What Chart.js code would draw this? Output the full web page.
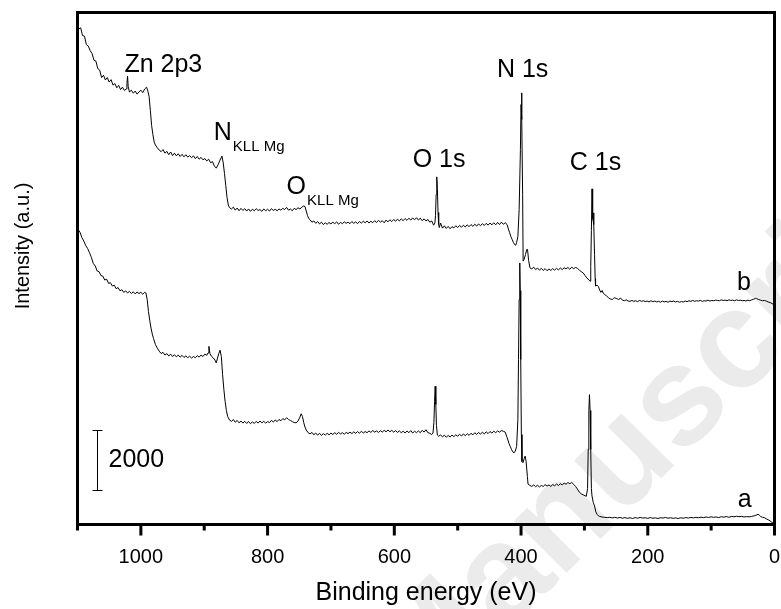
<!DOCTYPE html>
<html><head><meta charset="utf-8">
<script src="https://cdn.jsdelivr.net/npm/chart.js@4.4.0/dist/chart.umd.min.js"></script>
<style>html,body{margin:0;padding:0;background:#fff}#wrap{width:781px;height:609px;position:relative}</style>
</head><body><div id="wrap"><canvas id="c" width="781" height="609"></canvas></div>
<script>
const xTitle = 'Binding energy (eV)';
const yTitle = 'Intensity (a.u.)';
const majorTicks = [1000, 800, 600, 400, 200, 0];
const minorTicks = [1100, 900, 700, 500, 300, 100];
const scaleBarValue = 2000;

// curve b (upper spectrum): [binding energy eV, counts]
const curveB = [
[1100,16700],[1098,16520],[1095,16560],[1092,16300],[1089,16280],[1086,16000],[1083,15950],[1080,15800],[1077,15700],[1074,15480],
[1071,15450],[1068,15200],[1065,15150],[1062,14900],[1059,14980],[1056,14820],[1053,14900],[1050,14750],[1047,14830],[1044,14650],
[1041,14700],[1038,14560],[1035,14640],[1032,14500],[1029,14580],[1026,14470],[1023,14520],[1022,14700],[1021,14950],[1020,14600],
[1018,14420],[1015,14480],[1012,14380],[1009,14450],[1006,14350],[1003,14420],[1000,14480],[997,14400],[994,14520],[991,14580],
[989,14450],[987,14270],[985,13800],[983,13300],[981,13000],[979,12750],[977,12650],[974,12560],[971,12480],[968,12430],
[965,12500],[962,12380],[959,12440],[956,12330],[953,12420],[950,12300],[947,12380],[944,12290],[941,12360],[938,12270],
[935,12340],[932,12260],[929,12330],[926,12250],[923,12300],[920,12230],[917,12290],[914,12200],[911,12270],[908,12180],
[905,12240],[902,12160],[899,12200],[896,12120],[893,12180],[890,12060],[887,12100],[884,11950],[881,11880],[878,12000],
[875,12150],[872,12280],[870,12050],[868,11700],[866,11300],[864,10900],[862,10650],[860,10560],[857,10520],[854,10580],
[851,10480],[848,10550],[845,10460],[842,10540],[839,10470],[836,10530],[833,10450],[830,10520],[827,10440],[824,10510],
[821,10460],[818,10530],[815,10470],[812,10500],[809,10440],[806,10520],[803,10460],[800,10510],[797,10450],[794,10530],
[791,10470],[788,10510],[785,10460],[782,10520],[779,10480],[776,10540],[773,10500],[770,10570],[767,10480],[764,10520],
[761,10460],[758,10540],[755,10500],[752,10560],[749,10520],[746,10580],[743,10620],[741,10600],[739,10450],[737,10300],
[735,10200],[733,10160],[730,10080],[727,10120],[724,10040],[721,10100],[718,10020],[715,10080],[712,10000],[709,10060],
[706,10010],[703,10070],[700,10020],[697,10080],[694,10030],[691,10090],[688,10010],[685,10070],[682,10030],[679,10090],
[676,10040],[673,10080],[670,10030],[667,10100],[664,10040],[661,10090],[658,10030],[655,10100],[652,10050],[649,10110],
[646,10060],[643,10120],[640,10050],[637,10110],[634,10060],[631,10130],[628,10070],[625,10140],[622,10080],[619,10130],
[616,10060],[613,10150],[610,10090],[607,10160],[604,10100],[601,10170],[598,10110],[595,10180],[592,10120],[589,10190],
[586,10130],[583,10200],[580,10140],[577,10210],[574,10150],[571,10220],[568,10160],[565,10230],[562,10150],[559,10210],
[556,10130],[553,10190],[550,10120],[547,10170],[544,10080],[541,10120],[538,9980],[536,10050],[535,10300],[534,11000],
[533,11590],[532,11200],[531,10400],[530,10000],[529,9900],[527,10050],[524,9880],[521,9960],[518,9870],[515,9940],
[512,9860],[509,9930],[506,9890],[503,9960],[500,9900],[497,9970],[494,9910],[491,9980],[488,9920],[485,9990],
[482,9930],[479,10000],[476,9940],[473,10010],[470,9950],[467,10020],[464,9960],[461,10030],[458,9970],[455,10040],
[452,9980],[449,10050],[446,9990],[443,10060],[440,9990],[437,10070],[434,10000],[431,10080],[428,10010],[425,10060],
[422,10000],[420,9850],[418,9730],[416,9600],[414,9500],[412,9400],[410,9330],[408.5,9310],[407,9400],[405,9600],
[403,10500],[401,12500],[400,14000],[399.3,14390],[398.5,13500],[397.5,11000],[396.7,8780],[395,8850],[393,9000],[391,9170],
[389.8,9170],[388,8800],[386,8560],[383,8520],[380,8580],[377,8500],[374,8550],[371,8480],[368,8540],[365,8470],
[362,8530],[359,8460],[356,8520],[353,8470],[350,8530],[347,8480],[344,8540],[341,8490],[338,8550],[335,8500],
[332,8560],[329,8520],[326,8570],[323,8510],[320,8580],[317,8530],[314,8570],[311,8540],[308,8480],[305,8430],
[302,8390],[299,8300],[296,8220],[293,8150],[291,8110],[290,8600],[289,9800],[288,11190],[287,10200],[286,10100],
[285.5,10390],[285,10000],[284,9000],[283,8200],[282.4,7950],[280,7980],[278,7940],[276,7820],[274,7740],[272,7800],
[270,7700],[268,7670],[265,7620],[262,7560],[259,7520],[256,7500],[254,7540],[252,7560],[249,7530],[246,7500],
[243,7550],[240,7480],[237,7460],[234,7490],[231,7450],[228,7440],[225,7470],[222,7440],[219,7460],[216,7430],
[213,7470],[210,7440],[207,7460],[204,7430],[201,7450],[198,7420],[195,7460],[192,7430],[189,7450],[186,7420],
[183,7440],[180,7410],[177,7450],[174,7420],[171,7440],[168,7410],[165,7450],[162,7430],[159,7450],[156,7420],
[153,7440],[150,7410],[147,7430],[144,7420],[141,7450],[138,7430],[135,7460],[132,7440],[129,7470],[126,7440],
[123,7460],[120,7450],[117,7470],[114,7440],[111,7460],[108,7450],[105,7480],[102,7450],[99,7470],[96,7460],
[93,7480],[90,7470],[87,7460],[84,7490],[81,7470],[78,7480],[75,7460],[72,7490],[69,7470],[66,7480],
[63,7460],[60,7490],[57,7470],[54,7480],[51,7460],[48,7470],[45,7450],[42,7480],[39,7460],[36,7490],
[33,7510],[30,7540],[28,7530],[25,7500],[22,7480],[19,7460],[16,7470],[13,7450],[10,7420],[7,7400],
[4,7370],[2,7340],[0,7320]
];

// curve a (lower spectrum): [binding energy eV, counts]
const curveA = [
[1100,9870],[1098,9800],[1096,9740],[1093,9560],[1090,9450],[1087,9300],[1084,9200],[1081,9060],[1078,8900],[1075,8700],
[1072,8620],[1069,8450],[1066,8430],[1063,8300],[1060,8280],[1057,8150],[1054,8180],[1051,8040],[1048,8060],[1045,7950],
[1042,7980],[1039,7860],[1036,7900],[1033,7790],[1030,7830],[1027,7740],[1024,7790],[1021,7720],[1018,7770],[1015,7700],
[1012,7760],[1009,7690],[1006,7750],[1003,7700],[1000,7740],[997,7680],[994,7740],[992,7720],[990,7500],[988,7100],
[986,6800],[984,6550],[982,6350],[980,6200],[977,6000],[974,5880],[971,5780],[968,5700],[965,5740],[962,5650],
[959,5700],[956,5620],[953,5680],[950,5600],[947,5660],[944,5590],[941,5650],[938,5580],[935,5640],[932,5570],
[929,5620],[926,5560],[923,5610],[920,5550],[917,5600],[914,5560],[911,5630],[908,5580],[905,5650],[902,5600],
[899,5680],[896,5640],[894,5720],[892.6,5940],[891,5700],[889,5620],[886,5560],[883,5480],[881,5390],[879,5550],
[877,5700],[875,5810],[873,5600],[871,5000],[869,4500],[867,4100],[865,3800],[863,3600],[860,3480],[857,3440],
[854,3500],[851,3410],[848,3470],[845,3390],[842,3450],[839,3380],[836,3440],[833,3370],[830,3430],[827,3360],
[824,3420],[821,3370],[818,3440],[815,3380],[812,3450],[809,3390],[806,3440],[803,3380],[800,3430],[797,3400],
[794,3470],[791,3420],[788,3480],[785,3430],[782,3500],[779,3460],[776,3530],[773,3490],[770,3560],[767,3500],
[764,3470],[761,3430],[758,3400],[755,3390],[752,3450],[749,3580],[747,3690],[745,3600],[743,3400],[741,3250],
[739,3150],[736,3060],[733,3020],[730,3070],[727,2990],[724,3050],[721,2980],[718,3040],[715,2970],[712,3030],
[709,2980],[706,3040],[703,2990],[700,3050],[697,3000],[694,3060],[691,3010],[688,3070],[685,3020],[682,3060],
[679,3010],[676,3070],[673,3030],[670,3080],[667,3030],[664,3090],[661,3040],[658,3100],[655,3040],[652,3110],
[649,3050],[646,3100],[643,3060],[640,3120],[637,3070],[634,3130],[631,3080],[628,3120],[625,3070],[622,3130],
[619,3080],[616,3140],[613,3090],[610,3150],[607,3090],[604,3140],[601,3080],[598,3130],[595,3070],[592,3120],
[589,3060],[586,3110],[583,3050],[580,3120],[577,3060],[574,3130],[571,3050],[568,3110],[565,3060],[562,3120],
[559,3060],[556,3140],[553,3080],[550,3160],[547,3060],[544,3040],[541,3000],[539,3050],[537.5,3400],[536.5,4100],
[535.5,4610],[534.5,4000],[533.5,3300],[532,2980],[530,2940],[527,2990],[524,2920],[521,2980],[518,2910],[515,2970],
[512,2920],[509,2980],[506,2930],[503,2990],[500,2940],[497,3010],[494,2950],[491,3020],[488,2960],[485,3030],
[482,2970],[479,3040],[476,2990],[473,3060],[470,3000],[467,3070],[464,3010],[461,3080],[458,3020],[455,3090],
[452,3030],[449,3100],[446,3050],[443,3110],[440,3060],[437,3120],[434,3080],[431,3130],[428,3110],[425,3080],
[422,2900],[419,2700],[417,2600],[415,2500],[413,2420],[411,2390],[409,2450],[407,2600],[405,3500],[404,5500],
[403,7500],[402,8720],[401.3,7800],[400.5,5500],[399.5,3000],[398.5,2100],[397,2060],[395,2200],[393.5,2280],[392,2100],
[390,1600],[389,1350],[386,1300],[383,1270],[380,1320],[377,1260],[374,1310],[371,1250],[368,1300],[365,1270],
[362,1330],[359,1280],[356,1320],[353,1270],[350,1330],[347,1290],[344,1350],[341,1300],[338,1360],[335,1320],
[332,1380],[329,1340],[326,1400],[323,1360],[320,1400],[317,1340],[314,1270],[311,1180],[308,1080],[305,1020],
[302,990],[299,960],[297,940],[295,1200],[294,2500],[293,3800],[292,4330],[291,3800],[290,2500],[289,1200],
[288,950],[286,730],[284,620],[282,420],[280,340],[278,290],[276,270],[272,250],[268,240],[264,230],
[260,240],[256,220],[252,240],[248,215],[244,235],[240,210],[236,230],[232,205],[228,225],[224,200],
[220,230],[216,210],[212,235],[208,215],[204,225],[200,205],[196,230],[192,210],[188,220],[184,200],
[180,225],[176,215],[172,235],[168,210],[164,225],[160,205],[156,220],[152,200],[148,225],[144,210],
[140,230],[136,215],[132,235],[128,220],[124,240],[120,225],[116,245],[112,230],[108,250],[104,235],
[100,255],[96,240],[92,250],[88,230],[84,260],[80,245],[76,265],[72,240],[68,270],[64,255],
[60,275],[56,260],[52,270],[48,250],[44,265],[40,255],[36,270],[32,290],[28,320],[26,340],
[24,310],[22,270],[19,240],[16,230],[13,190],[10,160],[7,120],[4,70],[2,40],[0,30]
];

// text annotations, placed in data coordinates (energy, counts)
const peakLabels = [
  {text: 'Zn 2p3', e: 1026, c: 15100},
  {text: 'N 1s', e: 438, c: 14930},
  {text: 'O 1s', e: 571, c: 11930},
  {text: 'C 1s', e: 323, c: 11830},
  {text: 'b', e: 59, c: 7830},
  {text: 'a', e: 58, c: 570}
];
const augerLabels = [
  {main: 'N', sub: 'KLL Mg', e: 885, c: 12830},
  {main: 'O', sub: 'KLL Mg', e: 770, c: 11030}
];
const scaleBar = {e: 1069, from: 1150, labelE: 1051, labelC: 1930};

const FONT = '"Liberation Sans", Arial, Helvetica, sans-serif';

const decor = {
  id: 'decor',
  beforeDraw(chart) {
    const ctx = chart.ctx;
    ctx.save();
    ctx.fillStyle = '#fff';
    ctx.fillRect(0, 0, chart.width, chart.height);
    // faint watermark
    ctx.translate(395, 690);
    ctx.rotate(-Math.PI / 4);
    ctx.fillStyle = '#ebebeb';
    ctx.font = 'bold 140px ' + FONT;
    ctx.textBaseline = 'middle';
    ctx.textAlign = 'left';
    ctx.fillText('Manuscript', 0, 0);
    ctx.restore();
  },
  afterDraw(chart) {
    const ctx = chart.ctx;
    const xs = chart.scales.x, ys = chart.scales.y;
    const a = chart.chartArea;
    ctx.save();
    // frame
    ctx.strokeStyle = '#000';
    ctx.lineWidth = 3;
    ctx.strokeRect(a.left, a.top, a.right - a.left, a.bottom - a.top);
    // ticks
    ctx.beginPath();
    majorTicks.forEach(v => { const x = xs.getPixelForValue(v); ctx.moveTo(x, a.bottom); ctx.lineTo(x, a.bottom + 11); });
    minorTicks.forEach(v => { const x = xs.getPixelForValue(v); ctx.moveTo(x, a.bottom); ctx.lineTo(x, a.bottom + 6); });
    ctx.stroke();
    // y title
    ctx.fillStyle = '#000';
    ctx.save();
    ctx.translate(23, 246);
    ctx.rotate(-Math.PI / 2);
    ctx.font = '20px ' + FONT;
    ctx.textAlign = 'center';
    ctx.textBaseline = 'middle';
    ctx.fillText(yTitle, 0, 0);
    ctx.restore();
    // peak labels
    ctx.textAlign = 'left';
    ctx.textBaseline = 'alphabetic';
    ctx.font = '25px ' + FONT;
    peakLabels.forEach(l => ctx.fillText(l.text, xs.getPixelForValue(l.e), ys.getPixelForValue(l.c)));
    augerLabels.forEach(l => {
      const x = xs.getPixelForValue(l.e), y = ys.getPixelForValue(l.c);
      ctx.font = '25px ' + FONT;
      ctx.fillText(l.main, x, y);
      const w = ctx.measureText(l.main).width;
      ctx.font = '15px ' + FONT;
      ctx.fillText(l.sub, x + w + 1, y + 11);
    });
    // scale bar
    const bx = Math.round(xs.getPixelForValue(scaleBar.e)) + 0.5;
    const y0 = Math.round(ys.getPixelForValue(scaleBar.from)) + 0.5;
    const y1 = Math.round(ys.getPixelForValue(scaleBar.from + scaleBarValue)) + 0.5;
    ctx.lineWidth = 1;
    ctx.beginPath();
    ctx.moveTo(bx, y0); ctx.lineTo(bx, y1);
    ctx.moveTo(bx - 5, y0); ctx.lineTo(bx + 5, y0);
    ctx.moveTo(bx - 5, y1); ctx.lineTo(bx + 5, y1);
    ctx.stroke();
    ctx.font = '25px ' + FONT;
    ctx.fillText(String(scaleBarValue), xs.getPixelForValue(scaleBar.labelE), ys.getPixelForValue(scaleBar.labelC));
    ctx.restore();
  }
};

const toPts = arr => arr.map(p => ({x: p[0], y: p[1]}));

new Chart(document.getElementById('c'), {
  type: 'scatter',
  data: {
    datasets: [
      {label: 'b', data: toPts(curveB), showLine: true, borderColor: '#000', borderWidth: 1, pointRadius: 0, tension: 0},
      {label: 'a', data: toPts(curveA), showLine: true, borderColor: '#000', borderWidth: 1, pointRadius: 0, tension: 0}
    ]
  },
  options: {
    responsive: false,
    animation: false,
    events: [],
    layout: {padding: {top: 12.5, right: 6.5, left: 0, bottom: 0}},
    plugins: {legend: {display: false}, tooltip: {enabled: false}},
    scales: {
      x: {
        type: 'linear', min: 0, max: 1100, reverse: true,
        afterFit: s => { s.height = 84.5; s.paddingLeft = 0; s.paddingRight = 0; },
        afterBuildTicks: s => { s.ticks = majorTicks.map(v => ({value: v})); },
        grid: {display: false, drawTicks: false},
        border: {display: false},
        ticks: {color: '#000', font: {family: FONT, size: 20}, padding: 21, maxRotation: 0, autoSkip: false,
                callback: v => String(v)},
        title: {display: true, text: xTitle, color: '#000', font: {family: FONT, size: 25}, padding: {top: 0, bottom: 1}}
      },
      y: {
        min: 0, max: 17070,
        afterFit: s => { s.width = 77.5; s.paddingTop = 0; s.paddingBottom = 0; },
        grid: {display: false, drawTicks: false},
        border: {display: false},
        ticks: {display: false}
      }
    }
  },
  plugins: [decor]
});
</script>
</body></html>
